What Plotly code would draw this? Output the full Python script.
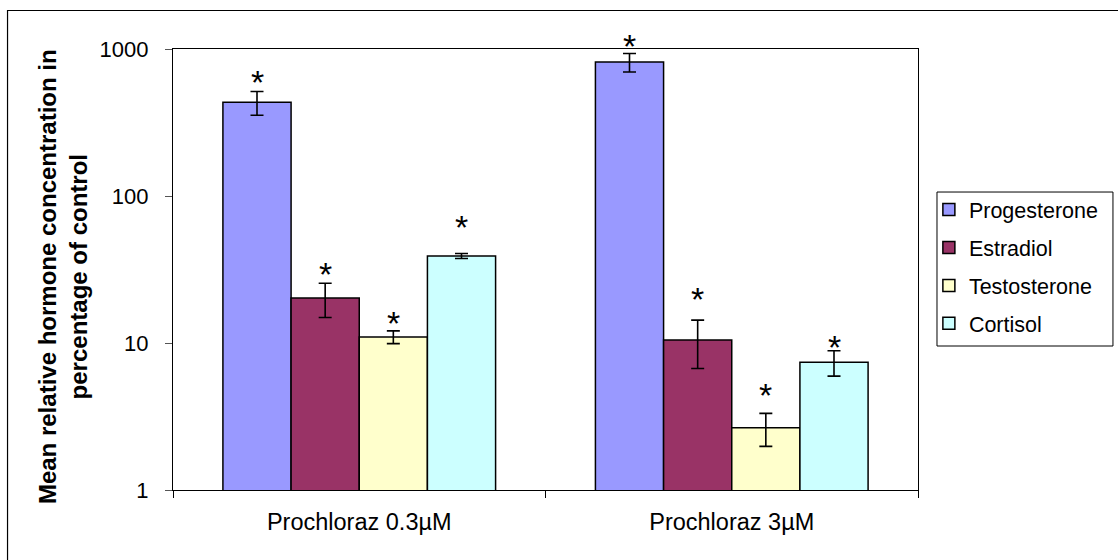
import math
import plotly.graph_objects as go

# Treatment groups on the x axis
categories = ["Prochloraz 0.3µM", "Prochloraz 3µM"]

# Hormone series: mean (% of control) and standard error per treatment
hormones = ["Progesterone", "Estradiol", "Testosterone", "Cortisol"]
progesterone = [434, 815]
estradiol = [20.2, 10.5]
testosterone = [11.0, 2.65]
cortisol = [39.1, 7.4]

progesterone_err = [80, 117]
estradiol_err = [5.3, 3.8]
testosterone_err = [1.1, 0.67]
cortisol_err = [1.5, 1.45]

# Height (in % of control) at which the significance asterisk sits
progesterone_star = [635, 1116]
estradiol_star = [31.4, 21.2]
testosterone_star = [14.6, 4.7]
cortisol_star = [65.5, 10.0]

colors = ["#9999FF", "#993366", "#FFFFCC", "#CCFFFF"]

series = [
    (hormones[0], progesterone, progesterone_err, progesterone_star),
    (hormones[1], estradiol, estradiol_err, estradiol_star),
    (hormones[2], testosterone, testosterone_err, testosterone_star),
    (hormones[3], cortisol, cortisol_err, cortisol_star),
]

FONT = "Arial, Liberation Sans, sans-serif"
BARGAP = 0.268
Y_RANGE = [0, 3]  # log10 range of the y axis (1 .. 1000)

fig = go.Figure()
for (name, vals, errs, _), col in zip(series, colors):
    fig.add_trace(go.Bar(
        name=name,
        x=categories,
        y=vals,
        marker=dict(color=col, line=dict(color="#000000", width=1.5)),
        error_y=dict(type="data", array=errs, visible=True,
                     color="#000000", thickness=1.6, width=6.5),
        legendgroup=name,
    ))

# Significance markers above each bar, centred on the bar within its group.
# Placed in paper units so markers above the top of the axis are still drawn.
n = len(series)
w = (1 - BARGAP) / n
annotations = []
for k, (name, vals, errs, stars) in enumerate(series):
    for i, s in enumerate(stars):
        yp = (math.log10(s) - Y_RANGE[0]) / (Y_RANGE[1] - Y_RANGE[0])
        annotations.append(dict(
            x=i + (k - (n - 1) / 2) * w, y=yp,
            xref="x", yref="paper", text="*", showarrow=False,
            font=dict(family=FONT, size=34, color="#000000"),
            xanchor="center", yanchor="middle", yshift=-4,
        ))

# Two-line rotated y-axis title
annotations.append(dict(
    x=-0.1477, y=0.485, xref="paper", yref="paper",
    text="Mean relative hormone concentration in<br>percentage of control",
    textangle=-90, showarrow=False, align="center",
    font=dict(family=FONT, size=24, color="#000000", weight="bold"),
    xanchor="center", yanchor="middle",
))

fig.update_layout(
    width=1118, height=560,
    margin=dict(l=173, r=200, t=49, b=70, pad=0),
    paper_bgcolor="#FFFFFF", plot_bgcolor="#FFFFFF",
    barmode="group", bargap=BARGAP, bargroupgap=0,
    font=dict(family=FONT, size=22, color="#000000"),
    showlegend=True,
    legend=dict(
        x=1.0146, y=0.6825, xanchor="left", yanchor="top",
        borderwidth=0, bgcolor="rgba(0,0,0,0)",
        font=dict(family=FONT, size=21.5, color="#000000"),
        tracegroupgap=7, traceorder="grouped",
    ),
    annotations=annotations,
    shapes=[
        # outer chart frame
        dict(type="rect", xref="paper", yref="paper",
             x0=-0.2221, y0=-0.6, x1=2.5, y1=1.0873,
             line=dict(color="#000000", width=1.2),
             fillcolor="rgba(0,0,0,0)", layer="below"),
        # legend frame
        dict(type="rect", xref="paper", yref="paper",
             x0=1.0255, y0=0.3265, x1=1.2617, y1=0.6757,
             line=dict(color="#000000", width=1),
             fillcolor="rgba(0,0,0,0)", layer="below"),
    ],
)

fig.update_xaxes(
    type="category", showline=True, linecolor="#000000", linewidth=1.2,
    mirror=True, ticks="outside", tickson="boundaries", ticklen=7,
    tickcolor="#000000", tickfont=dict(family=FONT, size=23.5),
    ticklabelstandoff=11, showgrid=False, zeroline=False,
)
fig.update_yaxes(
    type="log", range=Y_RANGE, tickvals=[1, 10, 100, 1000],
    ticktext=["1", "10", "100", "1000"],
    showline=True, linecolor="#000000", linewidth=1.2, mirror=True,
    ticks="outside", ticklen=7, tickcolor="#555555",
    tickfont=dict(family=FONT, size=22), ticklabelstandoff=12,
    showgrid=False, zeroline=False,
)

fig.write_html("out.html")
